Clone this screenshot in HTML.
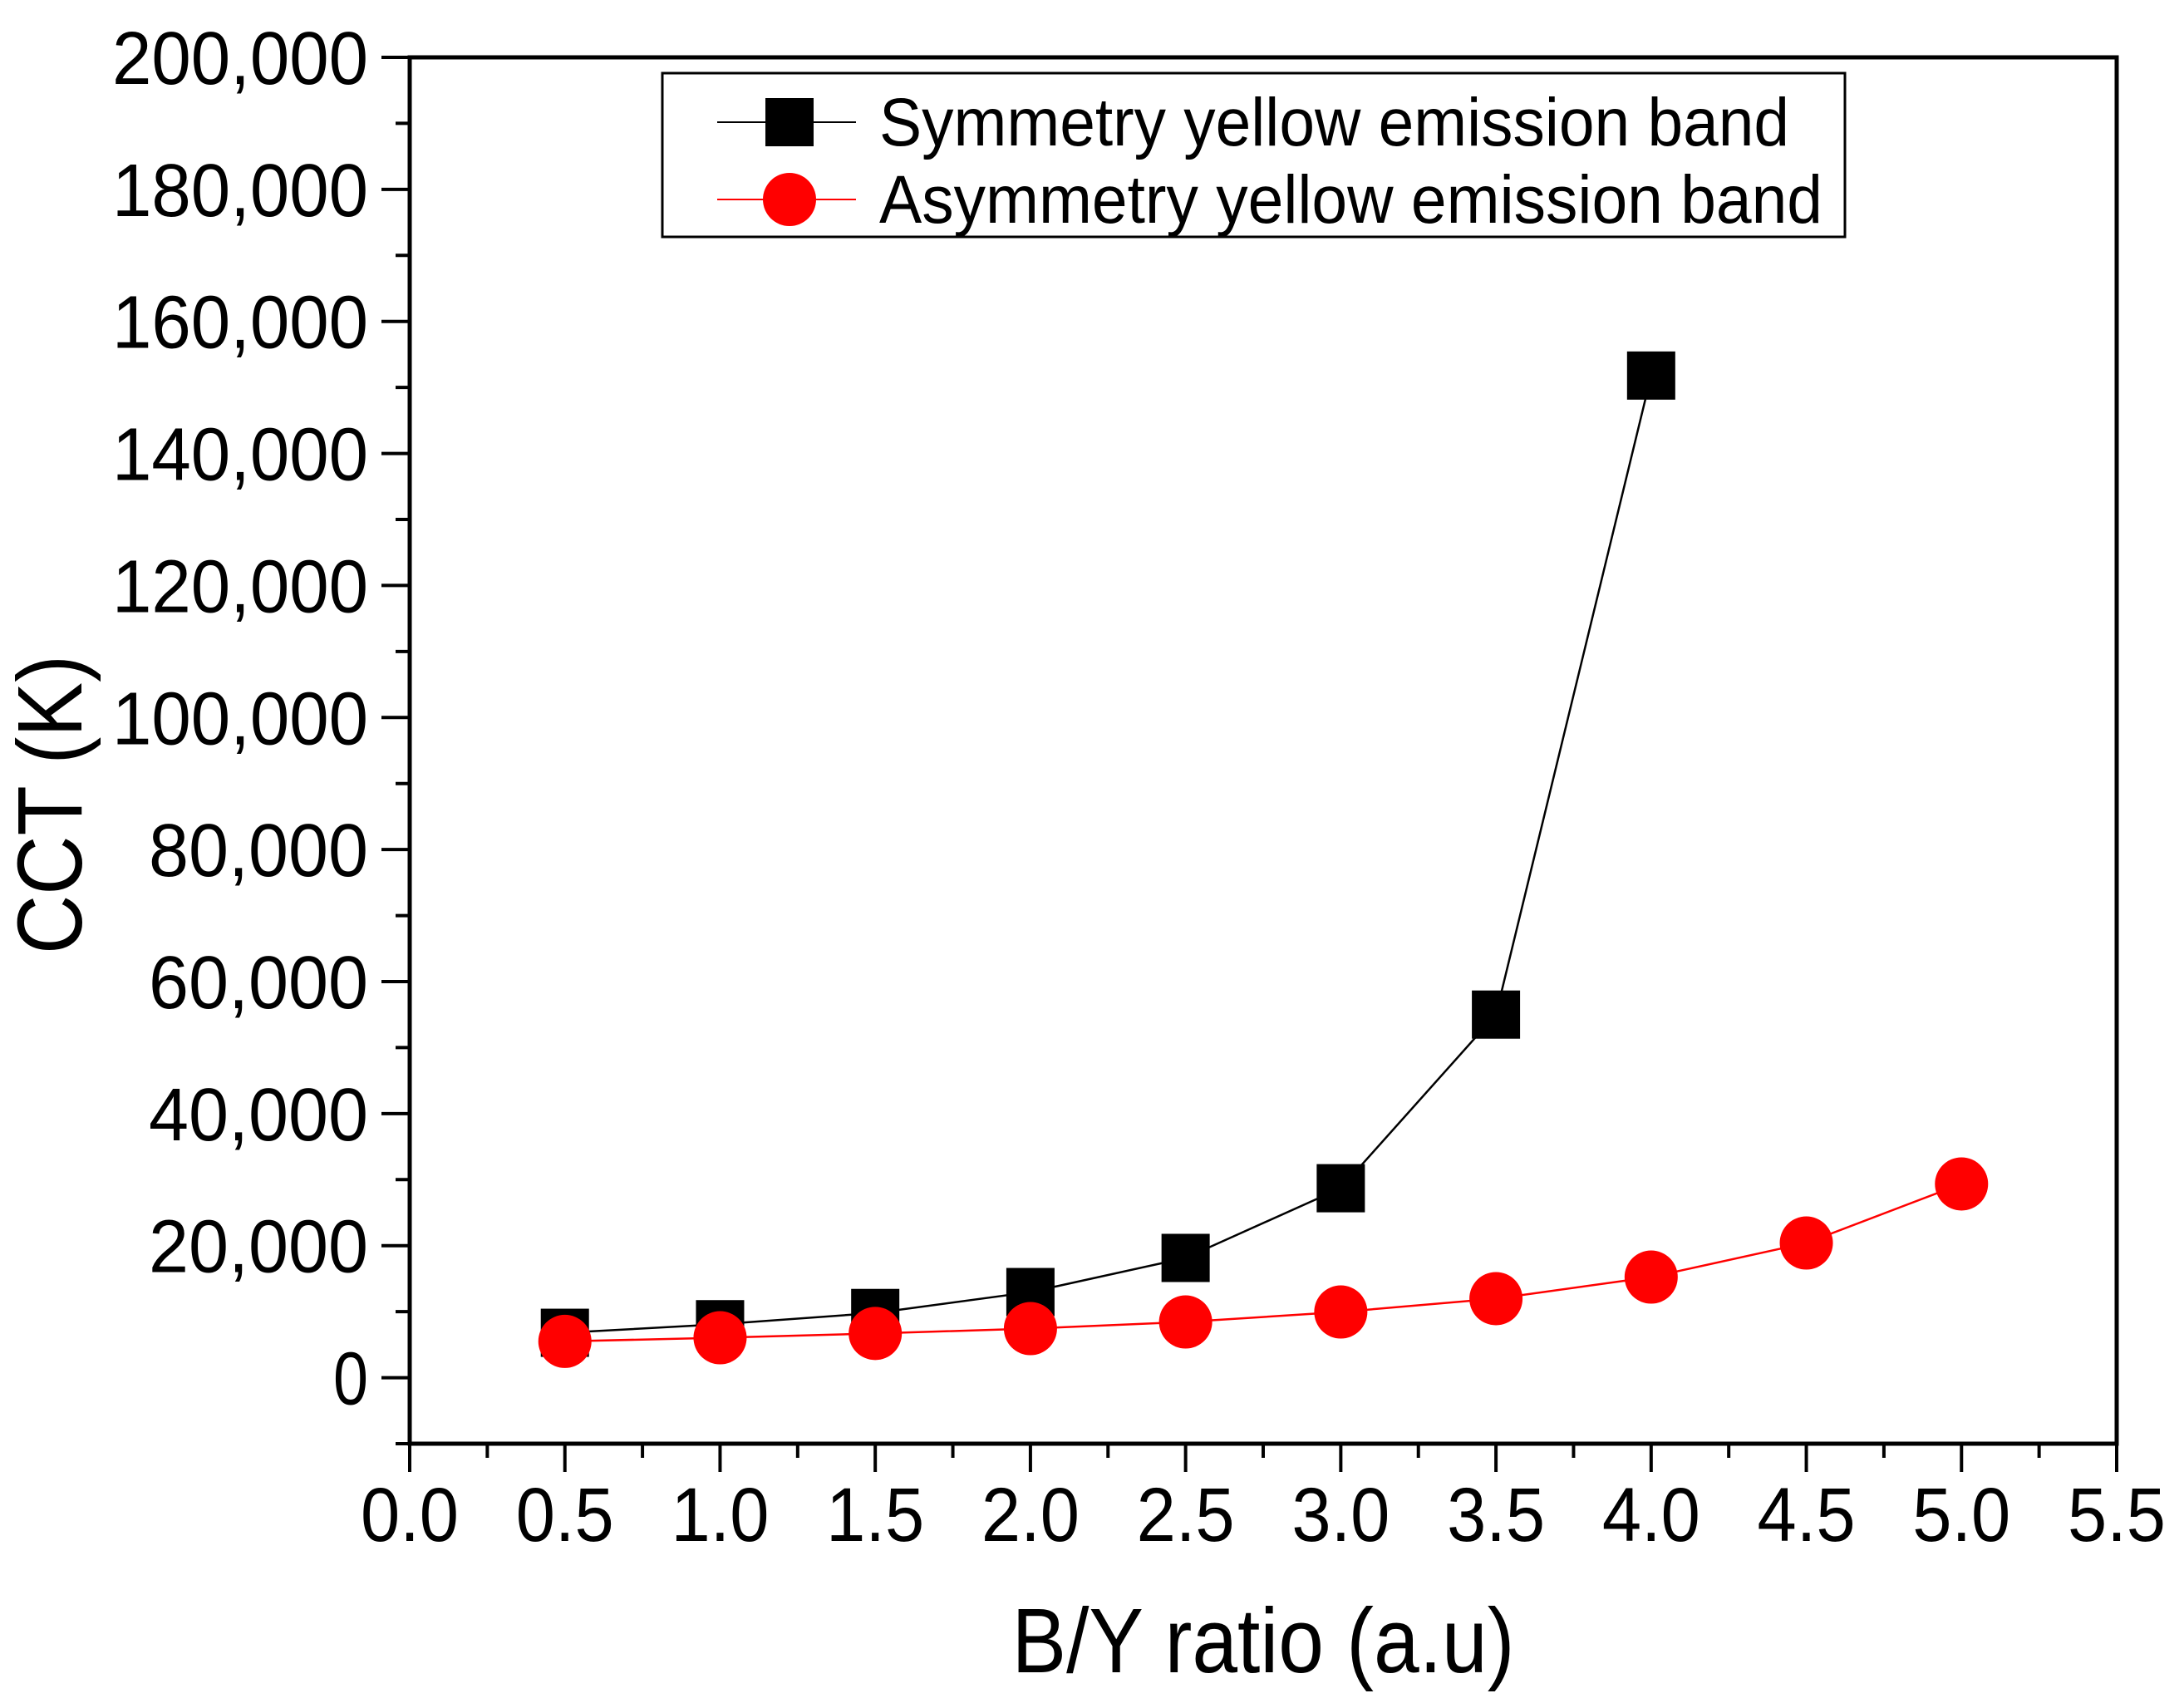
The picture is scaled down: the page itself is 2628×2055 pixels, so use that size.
<!DOCTYPE html>
<html><head><meta charset="utf-8"><style>
html,body{margin:0;padding:0;background:#fff;}
svg{display:block;font-family:"Liberation Sans",Arial,sans-serif;}
</style></head><body>
<svg id="chart" width="2628" height="2055" viewBox="0 0 2628 2055" xmlns="http://www.w3.org/2000/svg">
<g id="axes"></g>
<g id="series"></g>
<g id="legend">
  <rect x="797" y="88" width="1423" height="197" fill="#fff" stroke="#000" stroke-width="3"/>
  <g>
    <line x1="863" y1="147" x2="1030" y2="147" stroke="#000" stroke-width="2"/>
    <rect x="921" y="118" width="58" height="58" fill="#000"/>
    <text x="1058" y="175" font-size="82" textLength="1095" lengthAdjust="spacingAndGlyphs">Symmetry yellow emission band</text>
  </g>
  <g>
    <line x1="863" y1="240" x2="1030" y2="240" stroke="#f00" stroke-width="2"/>
    <circle cx="950" cy="240" r="32" fill="#f00"/>
    <text x="1058" y="268" font-size="82" textLength="1135" lengthAdjust="spacingAndGlyphs">Asymmetry yellow emission band</text>
  </g>
</g>
<text x="1520" y="2012" font-size="110" text-anchor="middle" textLength="605" lengthAdjust="spacingAndGlyphs">B/Y ratio (a.u)</text>
<text transform="translate(98,968) rotate(-90)" font-size="110" text-anchor="middle" textLength="360" lengthAdjust="spacingAndGlyphs">CCT (K)</text>
</svg>
<script>
const xCats = [0.5,1.0,1.5,2.0,2.5,3.0,3.5,4.0,4.5,5.0];
const symX = [0.5,1.0,1.5,2.0,2.5,3.0,3.5,4.0];
const symY = [6800,8100,9800,12970,18140,28700,55000,151800];
const asymX = [0.5,1.0,1.5,2.0,2.5,3.0,3.5,4.0,4.5,5.0];
const asymY = [5500,6050,6700,7430,8440,9950,11970,15240,20400,29350];
const xTicks = ["0.0","0.5","1.0","1.5","2.0","2.5","3.0","3.5","4.0","4.5","5.0","5.5"];
const yTicks = ["0","20,000","40,000","60,000","80,000","100,000","120,000","140,000","160,000","180,000","200,000"];

const NS="http://www.w3.org/2000/svg";
const L=493,R=2547,T=69,B=1737;
const xMin=0,xMax=5.5,yMin=-10000,yMax=200000;
function sx(v){return L+(v-xMin)/(xMax-xMin)*(R-L);}
function sy(v){return B-(v-yMin)/(yMax-yMin)*(B-T);}
function mk(tag,attrs,parent){const e=document.createElementNS(NS,tag);for(const k in attrs)e.setAttribute(k,attrs[k]);parent.appendChild(e);return e;}

const ax=document.getElementById('axes');
const frame=mk('rect',{x:L,y:T,width:R-L,height:B-T,fill:'none',stroke:'#000','stroke-width':5},ax);


for(let i=0;i<=22;i++){
  const v=i*0.25, x=sx(v), major=i%2===0;
  const t=mk('line',{x1:x,y1:B,x2:x,y2:B+(major?34:17),stroke:'#000','stroke-width':4},ax);
  
  
}
xTicks.forEach((lab,i)=>{
  const tx=mk('text',{x:sx(i*0.5),y:1854,'font-size':92,'text-anchor':'middle',textLength:118,lengthAdjust:'spacingAndGlyphs'},ax);
  tx.textContent=lab;
  
  
});
for(let v=-10000;v<=200000;v+=10000){
  const y=sy(v), major=(v%20000===0);
  const t=mk('line',{x1:L,y1:y,x2:L-(major?34:17),y2:y,stroke:'#000','stroke-width':4},ax);
  
  
}
yTicks.forEach((lab,i)=>{
  const tx=mk('text',{x:443,y:sy(i*20000)+32,'font-size':90,'text-anchor':'end'},ax);
  tx.setAttribute('textLength',lab.length===1?42:(lab.length*44));
  tx.setAttribute('lengthAdjust','spacingAndGlyphs');
  tx.textContent=lab;
  
  
});

const sg=document.getElementById('series');
const symLine=mk('polyline',{points:symX.map((x,i)=>sx(x)+','+sy(symY[i])).join(' '),fill:'none',stroke:'#000','stroke-width':2.5},sg);


const asymLine=mk('polyline',{points:asymX.map((x,i)=>sx(x)+','+sy(asymY[i])).join(' '),fill:'none',stroke:'#f00','stroke-width':2.5},sg);


symX.forEach((x,i)=>{
  const r=mk('rect',{x:sx(x)-29,y:sy(symY[i])-29,width:58,height:58,fill:'#000'},sg);
  
  
});
asymX.forEach((x,i)=>{
  const c=mk('circle',{cx:sx(x),cy:sy(asymY[i]),r:32,fill:'#f00'},sg);
  
  
});
</script>
</body></html>
